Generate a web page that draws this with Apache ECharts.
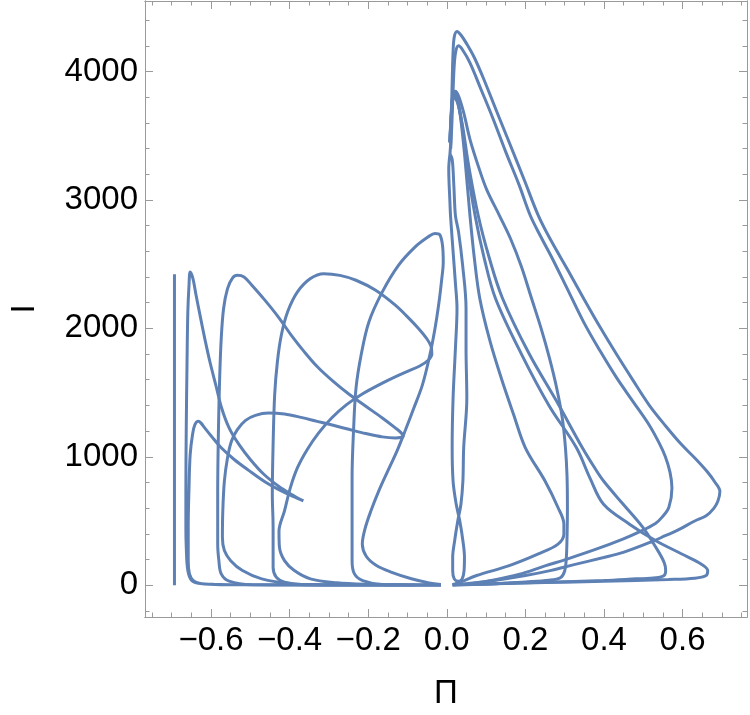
<!DOCTYPE html>
<html><head><meta charset="utf-8">
<script src="https://cdn.jsdelivr.net/npm/echarts/dist/echarts.min.js"></script>
<style>html,body{margin:0;padding:0;background:#fff}#c{width:750px;height:715px}</style>
</head><body><div id="c"></div>
<script>
// ---- tick labels ----
const xMajorTicks = [-0.6, -0.4, -0.2, 0, 0.2, 0.4, 0.6];
const xMinorTicks = [-0.75,-0.7,-0.65,-0.55,-0.5,-0.45,-0.35,-0.3,-0.25,-0.15,-0.1,-0.05,0.05,0.1,0.15,0.25,0.3,0.35,0.45,0.5,0.55,0.65,0.7,0.75];
const yMajorTicks = [0, 1000, 2000, 3000, 4000];
const yMinorTicks = [-200,200,400,600,800,1200,1400,1600,1800,2200,2400,2600,2800,3200,3400,3600,3800,4200,4400];

// ---- traced curve strokes: [Π, I] ----
const vertLine = [[-0.693, 2421], [-0.693, 0]];
const strokeA = [[-0.504,3],[-0.58,5],[-0.628,12],[-0.649,36],[-0.659,114],[-0.663,295],[-0.664,450],[-0.664,708],[-0.663,1225],[-0.661,1742],[-0.659,2129],[-0.656,2336],[-0.653,2439],[-0.646,2388],[-0.638,2258],[-0.628,2103],[-0.616,1922],[-0.603,1742],[-0.588,1561],[-0.573,1380],[-0.554,1225],[-0.529,1096],[-0.500,979],[-0.467,868],[-0.429,773],[-0.396,708],[-0.365,656],[-0.388,687],[-0.421,734],[-0.463,806],[-0.504,894],[-0.541,979],[-0.574,1070],[-0.599,1160],[-0.616,1225],[-0.626,1264],[-0.632,1277],[-0.641,1251],[-0.647,1173],[-0.653,1018],[-0.656,760],[-0.658,450],[-0.658,191],[-0.655,90],[-0.646,38],[-0.630,15],[-0.59,6],[-0.50,3],[-0.30,2],[-0.081,1]];
const strokeC = [[-0.217,1],[-0.40,2],[-0.496,3],[-0.554,31],[-0.574,88],[-0.580,191],[-0.583,320],[-0.583,708],[-0.581,1225],[-0.578,1612],[-0.574,1922],[-0.568,2155],[-0.558,2310],[-0.545,2393],[-0.533,2413],[-0.516,2401],[-0.496,2336],[-0.463,2220],[-0.429,2090],[-0.396,1948],[-0.363,1819],[-0.330,1703],[-0.289,1587],[-0.247,1483],[-0.206,1393],[-0.164,1302],[-0.131,1225],[-0.116,1186],[-0.111,1160],[-0.131,1147],[-0.164,1155],[-0.206,1181],[-0.247,1212],[-0.289,1245],[-0.330,1276],[-0.371,1307],[-0.413,1333],[-0.454,1341],[-0.487,1323],[-0.512,1284],[-0.533,1212],[-0.548,1121],[-0.558,992],[-0.566,811],[-0.570,579],[-0.571,372],[-0.566,270],[-0.550,191],[-0.520,114],[-0.471,49],[-0.396,12],[-0.314,4],[-0.15,2],[-0.015,1]];
const strokeD = [[-0.081,2],[-0.25,2],[-0.363,3],[-0.413,23],[-0.434,62],[-0.442,140],[-0.442,450],[-0.444,708],[-0.442,1096],[-0.438,1483],[-0.431,1742],[-0.421,1948],[-0.405,2129],[-0.380,2284],[-0.347,2388],[-0.313,2426],[-0.272,2413],[-0.231,2375],[-0.181,2297],[-0.131,2181],[-0.100,2090],[-0.072,2000],[-0.052,1925],[-0.040,1860],[-0.038,1800],[-0.048,1750],[-0.070,1705],[-0.100,1665],[-0.130,1625],[-0.164,1574],[-0.214,1491],[-0.255,1406],[-0.293,1302],[-0.326,1186],[-0.355,1057],[-0.380,915],[-0.398,760],[-0.413,579],[-0.427,420],[-0.426,300],[-0.413,191],[-0.388,114],[-0.347,49],[-0.280,18],[-0.206,6],[-0.10,2],[-0.015,1]];
const strokeE = [[-0.015,1],[-0.10,2],[-0.164,5],[-0.214,36],[-0.235,88],[-0.241,191],[-0.241,450],[-0.241,837],[-0.237,1225],[-0.231,1535],[-0.218,1793],[-0.198,2052],[-0.164,2284],[-0.123,2491],[-0.081,2633],[-0.048,2711],[-0.030,2740],[-0.018,2730],[-0.011,2650],[-0.009,2517],[-0.013,2380],[-0.020,2200],[-0.030,2000],[-0.044,1780],[-0.062,1560],[-0.085,1370],[-0.105,1210],[-0.126,1050],[-0.150,890],[-0.173,734],[-0.193,579],[-0.208,440],[-0.215,320],[-0.205,225],[-0.180,155],[-0.140,100],[-0.090,50],[-0.045,18],[-0.015,5]];
const narrowLoop = [[0.008,3357],[0.005,3240],[0.008,2982],[0.0095,2879],[0.016,2600],[0.022,2350],[0.026,2155],[0.022,1845],[0.016,1457],[0.0137,1070],[0.016,811],[0.024,630],[0.033,501],[0.041,346],[0.045,217],[0.044,114],[0.039,49],[0.030,31],[0.019,49],[0.015,114],[0.015,217],[0.020,346],[0.028,501],[0.036,630],[0.041,811],[0.043,1070],[0.051,1457],[0.049,1845],[0.049,2155],[0.040,2500],[0.030,2750],[0.022,2879],[0.018,3111],[0.0137,3318],[0.008,3357]];
const loopP1 = [[0.008,3357],[0.010,3450],[0.012,3700],[0.014,3950],[0.016,4150],[0.019,4270],[0.026,4313],[0.036,4285],[0.050,4220],[0.070,4110],[0.095,3935],[0.125,3705],[0.160,3440],[0.198,3150],[0.233,2879],[0.266,2680],[0.308,2455],[0.349,2229],[0.390,2010],[0.432,1798],[0.474,1595],[0.515,1403],[0.557,1240],[0.598,1093],[0.633,985],[0.664,880],[0.683,800],[0.695,729],[0.690,655],[0.680,600],[0.660,540],[0.631,500],[0.589,430],[0.556,385],[0.523,340],[0.449,255],[0.399,215],[0.324,160],[0.266,115],[0.2,75],[0.117,35],[0.05,12],[0.015,3]];
const loopP2 = [[0.010,3400],[0.013,3600],[0.016,3850],[0.019,4050],[0.023,4160],[0.030,4201],[0.040,4170],[0.059,4068],[0.088,3855],[0.117,3639],[0.150,3375],[0.184,3118],[0.2125,2879],[0.240,2710],[0.266,2560],[0.308,2300],[0.349,2045],[0.390,1825],[0.432,1616],[0.474,1430],[0.515,1248],[0.540,1110],[0.556,1002],[0.568,880],[0.573,757],[0.565,605],[0.548,530],[0.531,481],[0.490,415],[0.448,359],[0.380,280],[0.308,205],[0.250,150],[0.183,83],[0.120,40],[0.059,10],[0.015,3]];
const loopP3 = [[0.008,3450],[0.011,3650],[0.014,3790],[0.022,3848],[0.030,3809],[0.043,3680],[0.059,3473],[0.080,3266],[0.101,3085],[0.134,2879],[0.162,2700],[0.190,2480],[0.215,2240],[0.240,2000],[0.262,1760],[0.280,1530],[0.294,1300],[0.302,1070],[0.306,850],[0.307,600],[0.306,372],[0.304,200],[0.300,110],[0.290,60],[0.26,38],[0.20,25],[0.109,10],[0.015,3]];
const loopB1 = [[0.008,3450],[0.012,3700],[0.019,3835],[0.027,3790],[0.036,3620],[0.046,3330],[0.059,2879],[0.070,2550],[0.084,2233],[0.110,1900],[0.140,1600],[0.170,1330],[0.200,1070],[0.250,811],[0.283,605],[0.298,475],[0.298,398],[0.283,320],[0.233,243],[0.159,152],[0.076,75],[0.034,23],[0.015,4]];
const tipLine2 = [[0.008,3450],[0.012,3680],[0.018,3820],[0.027,3775],[0.038,3600],[0.050,3300],[0.072,2879],[0.095,2550],[0.124,2233],[0.19,1800],[0.26,1400],[0.33,1070],[0.365,830],[0.399,630],[0.465,475],[0.532,346],[0.598,243],[0.647,165],[0.664,114],[0.660,75],[0.631,54],[0.564,44],[0.399,31],[0.25,20],[0.10,9],[0.015,2]];
const tipLine1 = [[0.008,3450],[0.012,3660],[0.017,3805],[0.027,3760],[0.040,3580],[0.055,3280],[0.080,2879],[0.108,2550],[0.142,2233],[0.21,1800],[0.28,1430],[0.345,1070],[0.375,920],[0.399,811],[0.449,630],[0.499,450],[0.532,295],[0.553,178],[0.557,114],[0.553,75],[0.532,57],[0.482,49],[0.399,36],[0.25,22],[0.10,10],[0.015,3]];

const strokes = [vertLine, strokeA, strokeC, strokeD, strokeE, narrowLoop, loopP1, loopP2, loopP3, loopB1, tipLine2, tipLine1];

const LINE = '#5E81B5';
const FRAME = '#9a9a9a';
const FONT = 'Liberation Sans, Arial, sans-serif';
const FS = 33;
const XMIN = -0.768, XMAX = 0.764, YMIN = -248, YMAX = 4550;

function fmtX(v){ const s = Math.abs(v).toFixed(1); return v < -1e-9 ? '\u2212' + s : s; }
function fmtY(v){ return String(Math.round(v)); }

function xAx(pos, ticks, len, labels){
  return {
    type:'value', position:pos, min:XMIN, max:XMAX,
    axisLine:{show:true, onZero:false, lineStyle:{color:FRAME, width:1}},
    axisTick:{show:true, inside:true, length:len, customValues:ticks, lineStyle:{color:FRAME, width:1}},
    axisLabel:labels ? {show:true, customValues:xMajorTicks, formatter:fmtX, color:'#000', fontSize:FS, fontFamily:FONT, margin:7} : {show:false},
    splitLine:{show:false},
    name: labels ? '\u03A0' : '', nameLocation:'middle', nameGap:60,
    nameTextStyle:{color:'#000', fontSize:FS, fontFamily:FONT}
  };
}
function yAx(pos, ticks, len, labels){
  return {
    type:'value', position:pos, min:YMIN, max:YMAX,
    axisLine:{show:true, onZero:false, lineStyle:{color:FRAME, width:1}},
    axisTick:{show:true, inside:true, length:len, customValues:ticks, lineStyle:{color:FRAME, width:1}},
    axisLabel:labels ? {show:true, customValues:yMajorTicks, formatter:fmtY, color:'#000', fontSize:FS, fontFamily:FONT, margin:7} : {show:false},
    splitLine:{show:false},
    name: labels ? 'I' : '', nameLocation:'middle', nameGap:104, nameRotate:90,
    nameTextStyle:{color:'#000', fontSize:FS, fontFamily:FONT}
  };
}

const chart = echarts.init(document.getElementById('c'), null, {renderer:'canvas'});
chart.setOption({
  animation:false,
  backgroundColor:'#fff',
  grid:{left:130, right:3, top:1, bottom:95, containLabel:false},
  xAxis:[
    xAx('bottom', xMajorTicks, 8, true),
    xAx('bottom', xMinorTicks, 4.5, false),
    xAx('top', xMajorTicks, 8, false),
    xAx('top', xMinorTicks, 4.5, false)
  ],
  yAxis:[
    yAx('left', yMajorTicks, 8, true),
    yAx('left', yMinorTicks, 4.5, false),
    yAx('right', yMajorTicks, 8, false),
    yAx('right', yMinorTicks, 4.5, false)
  ],
  series: strokes.map(s => ({
    type:'line', data:s, xAxisIndex:0, yAxisIndex:0,
    showSymbol:false, smooth:0.35, silent:true, clip:true,
    lineStyle:{color:LINE, width:3}
  }))
});
</script></body></html>
